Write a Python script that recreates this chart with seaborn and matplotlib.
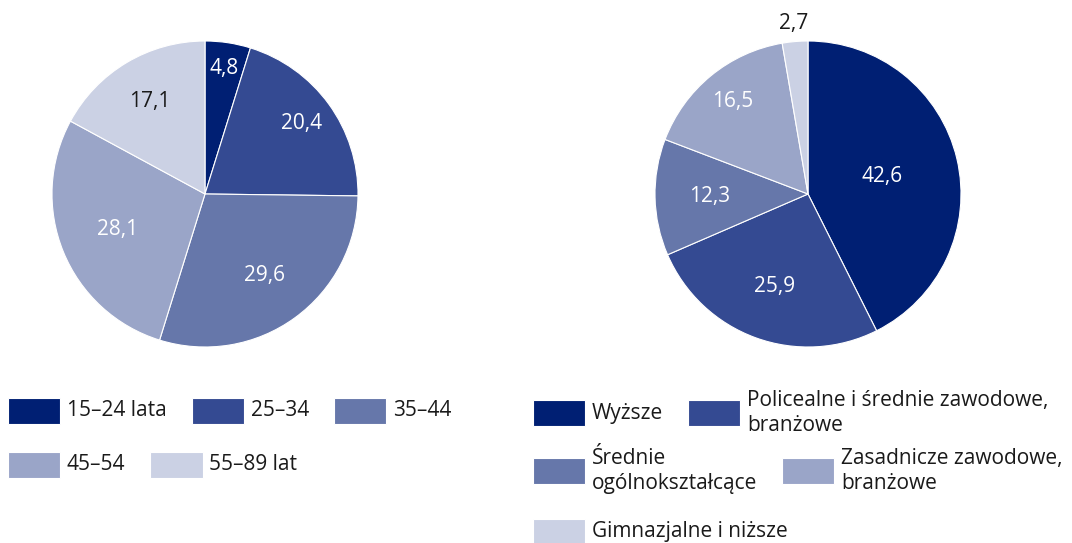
import numpy as np
import matplotlib
matplotlib.use("Agg")
import matplotlib.pyplot as plt
import seaborn as sns

# data (percent shares)
age_groups = ["15–24 lata", "25–34", "35–44", "45–54", "55–89 lat"]
age_shares = [4.8, 20.4, 29.6, 28.1, 17.1]

edu_groups = [
    "Wyższe",
    "Policealne i średnie zawodowe,\nbranżowe",
    "Średnie\nogólnokształcące",
    "Zasadnicze zawodowe,\nbranżowe",
    "Gimnazjalne i niższe",
]
edu_shares = [42.6, 25.9, 12.3, 16.5, 2.7]

palette = ["#001f73", "#344a92", "#6677aa", "#9aa5c8", "#cbd1e4"]

W, H = 1072, 543
FS = 15
TEXT = "#1a1a1a"

sns.set_theme(style="white")
plt.rcParams["font.family"] = ["Open Sans", "DejaVu Sans"]


def draw_pie(ax, values, label_r, label_colors):
    '''Pie starting at 12 o'clock, clockwise, with value labels'''
    wedges, _ = ax.pie(values, colors=palette, startangle=90,
                       counterclock=False, radius=1,
                       wedgeprops=dict(edgecolor="white", linewidth=0.8))
    for w, v, r, c in zip(wedges, values, label_r, label_colors):
        ang = np.deg2rad((w.theta1 + w.theta2) / 2)
        ax.text(r * np.cos(ang), r * np.sin(ang),
                f"{v:.1f}".replace(".", ","),
                ha="center", va="center", color=c, fontsize=FS)
    ax.set_xlim(-1, 1)
    ax.set_ylim(-1, 1)
    ax.set_aspect("equal")
    ax.axis("off")
    return wedges


def add_legend_row(fig, handles, labels, x_px, y_px):
    '''One row of legend entries, left aligned at x_px, centred on y_px'''
    leg = fig.legend(handles, labels, ncol=len(handles), loc="center left",
                     bbox_to_anchor=(x_px / W, 1 - y_px / H),
                     frameon=False, borderpad=0, borderaxespad=0,
                     fontsize=FS, labelcolor=TEXT,
                     handlelength=2.5, handleheight=1.55,
                     handletextpad=0.33, columnspacing=1.2)
    # centre the swatches against multi-line labels
    box = leg._legend_handle_box
    box.align = "center"
    for col in box.get_children():
        for item in col.get_children():
            item.align = "center"
    for t in leg.get_texts():
        t.set_linespacing(1.3)
    return leg


fig = plt.figure(figsize=(W / 100, H / 100), dpi=100)

R = 153
ax1 = fig.add_axes([(205 - R) / W, (H - 194 - R) / H, 2 * R / W, 2 * R / H])
ax2 = fig.add_axes([(808 - R) / W, (H - 194 - R) / H, 2 * R / W, 2 * R / H])

w1 = draw_pie(ax1, age_shares,
              [0.83, 0.78, 0.66, 0.62, 0.7],
              ["white", "white", "white", "white", TEXT])
w2 = draw_pie(ax2, edu_shares,
              [0.5, 0.64, 0.64, 0.78, 1.12],
              ["white", "white", "white", "white", TEXT])

add_legend_row(fig, w1[:3], age_groups[:3], 8, 411)
add_legend_row(fig, w1[3:], age_groups[3:], 8, 465)

add_legend_row(fig, w2[:2], edu_groups[:2], 533, 413)
add_legend_row(fig, w2[2:4], edu_groups[2:4], 533, 471)
add_legend_row(fig, w2[4:], edu_groups[4:], 533, 532)

fig.savefig("out.png", dpi=100, facecolor="white")
